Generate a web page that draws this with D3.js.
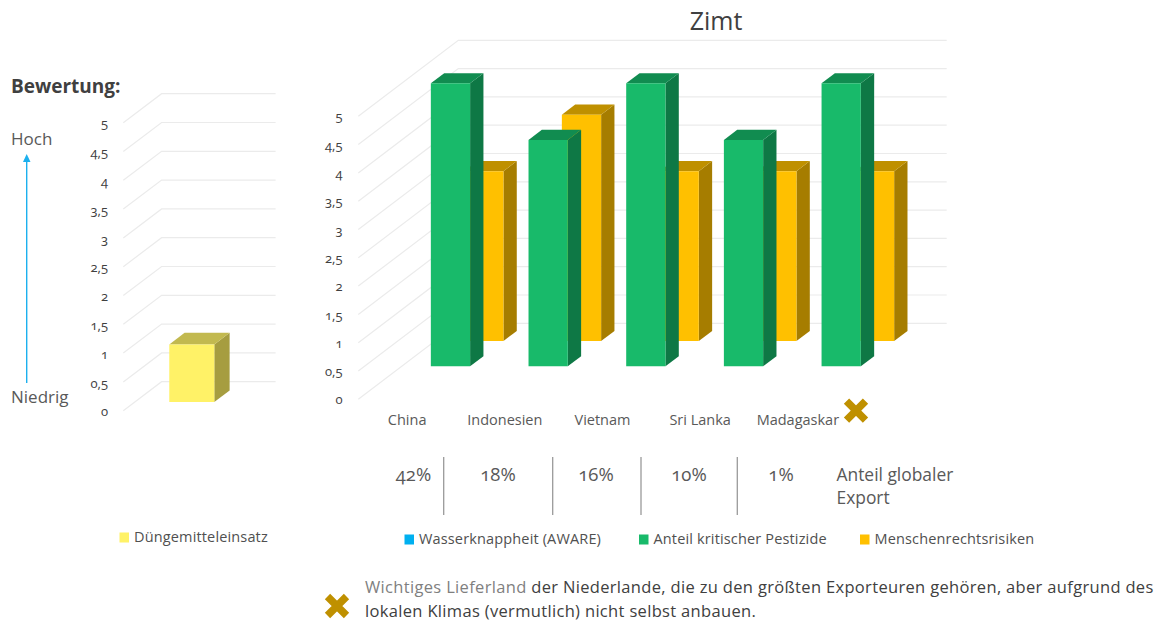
<!DOCTYPE html>
<html lang="de">
<head>
<meta charset="utf-8">
<script src="https://cdn.jsdelivr.net/npm/d3@7"></script>
<style>
html,body{margin:0;padding:0;background:#fff}
svg{display:block}
text{font-family:"Open Sans",Lato,sans-serif;font-variant-numeric:oldstyle-nums;fill:#595959}
</style>
</head>
<body>
<svg id="c" width="1163" height="626"></svg>
<script>
const tickValues = [0,0.5,1,1.5,2,2.5,3,3.5,4,4.5,5];
const leftCategories = ["Gesamt"];
const leftSeries = ["Düngemitteleinsatz"];
const leftValues = [1];
const categories = ["China","Indonesien","Vietnam","Sri Lanka","Madagaskar"];
const seriesNames = ["Wasserknappheit (AWARE)","Anteil kritischer Pestizide","Menschenrechtsrisiken"];
const wasserknappheit = [null,null,null,null,null];
const pestizide = [5,4,5,4,5];
const menschenrechte = [3,4,3,3,3];
const exportAnteil = ["42%","18%","16%","10%","1%"];
const exportX = [413.5,498,596,689,781];
const separatorX = [443.7,552.7,641,737.3];

const palette = {
  "Düngemitteleinsatz":{front:"#FFF267",top:"#C2B94F",side:"#A69D40"},
  "Wasserknappheit (AWARE)":{front:"#00B0F0",top:"#0084B4",side:"#00729C"},
  "Anteil kritischer Pestizide":{front:"#18BA6A",top:"#118C50",side:"#0E7845"},
  "Menschenrechtsrisiken":{front:"#FFC000",top:"#BF9000",side:"#A67D00"}
};
const GRID="#ebebeb", CROSS="#BF9000", ARROW="#1CB0EE";
const svg=d3.select("#c");

function chart3D(o){
  const g=svg.append("g");
  const x=d3.scaleBand().domain(o.categories).range([o.x0,o.x1]);
  const y=d3.scaleLinear().domain([0,5]).range([o.y0,o.y5]);
  const z=d3.scaleBand().domain(o.series).range([0,1]);
  const bw=x.bandwidth()*o.barFrac, bd=z.bandwidth()*0.4;
  const P=(px,v,d)=>[px+o.dx*d,y(v)-o.dy*d];
  const line=d3.line();
  g.selectAll("path.grid").data(tickValues).join("path")
    .attr("fill","none").attr("stroke",GRID).attr("stroke-width",1.2)
    .attr("d",v=>line([P(o.x0,v,0),P(o.x0,v,1),P(o.x1,v,1)]));
  const rows=o.series.map((s,i)=>({s,vals:o.values[i]})).reverse();
  rows.forEach(r=>{
    const c=palette[r.s];
    const d0=z(r.s)+(z.bandwidth()-bd)/2, d1=d0+bd;
    r.vals.forEach((v,i)=>{
      if(v==null) return;
      const a=x(o.categories[i])+(x.bandwidth()-bw)/2, b=a+bw;
      g.append("path").attr("fill",c.side).attr("d",line([P(b,0,d0),P(b,0,d1),P(b,v,d1),P(b,v,d0)])+"Z");
      g.append("path").attr("fill",c.top).attr("d",line([P(a,v,d0),P(a,v,d1),P(b,v,d1),P(b,v,d0)])+"Z");
      g.append("path").attr("fill",c.front).attr("d",line([P(a,0,d0),P(b,0,d0),P(b,v,d0),P(a,v,d0)])+"Z");
    });
  });
  const ax=g.append("g").attr("transform",`translate(${o.labelX},${o.labelDy})`)
    .call(d3.axisLeft(y).tickValues(tickValues).tickSize(0).tickPadding(0)
      .tickFormat(d=>String(d).replace(".",",")));
  ax.select(".domain").remove();
  ax.selectAll("text").attr("font-size",13).style("fill","#404040");
  return {x};
}

chart3D({categories:leftCategories,series:leftSeries,values:[leftValues],
  x0:123.3,x1:237.3,y0:410.7,y5:122.7,dx:38.3,dy:29,barFrac:0.395,labelX:108,labelDy:1});
const main=chart3D({categories,series:seriesNames,values:[wasserknappheit,pestizide,menschenrechte],
  x0:358.3,x1:846.7,y0:399.3,y5:116.3,dx:100,dy:76,barFrac:0.402,labelX:342.5,labelDy:0.5});

function txt(s,x,y,size,opt={}){
  return svg.append("text").attr("x",x).attr("y",y).attr("font-size",size)
    .attr("text-anchor",opt.anchor||"start").attr("font-weight",opt.weight||null)
    .style("letter-spacing",opt.ls||null)
    .style("fill",opt.fill||"#595959").text(s);
}
function cross(cx,cy){
  const r=9.5;
  svg.append("path").attr("fill","none").attr("stroke",CROSS).attr("stroke-width",7.5)
    .attr("d",`M${cx-r},${cy-r}L${cx+r},${cy+r}M${cx-r},${cy+r}L${cx+r},${cy-r}`);
}

txt("Zimt",716,30,25,{anchor:"middle",fill:"#404040"});
txt("Bewertung:",11,93,19,{weight:700,fill:"#404040"});
txt("Hoch",11,145,17);
txt("Niedrig",11,403,17);
svg.append("line").attr("x1",26.7).attr("x2",26.7).attr("y1",383).attr("y2",160)
  .attr("stroke",ARROW).attr("stroke-width",1.4);
svg.append("path").attr("fill",ARROW).attr("d","M26.7,154L30.5,162L23,162Z");

svg.append("g").selectAll("text").data(categories).join("text")
  .attr("x",d=>main.x(d)+main.x.bandwidth()/2).attr("y",425).attr("text-anchor","middle")
  .attr("font-size",14.5).text(d=>d);
cross(856,410.7);

svg.append("g").selectAll("text").data(exportAnteil).join("text")
  .attr("x",(d,i)=>exportX[i]).attr("y",481).attr("text-anchor","middle")
  .attr("font-size",18.5).text(d=>d);
svg.append("g").selectAll("line").data(separatorX).join("line")
  .attr("x1",d=>d).attr("x2",d=>d).attr("y1",457).attr("y2",515)
  .attr("stroke","#9a9a9a").attr("stroke-width",1.3);
txt("Anteil globaler",836.5,481,17.4);
txt("Export",836.5,504,17.4);

function legend(name,x,y){
  svg.append("rect").attr("x",x).attr("y",y-9.5).attr("width",9.5).attr("height",10)
    .attr("fill",palette[name].front);
  txt(name,x+14.5,y,14.5,{fill:"#505050",ls:"0.15px"});
}
legend(leftSeries[0],119.5,542);
legend(seriesNames[0],404.5,544);
legend(seriesNames[1],639,544);
legend(seriesNames[2],860,544);

cross(337,606);
const t=txt("",365,593,16.5,{fill:"#404040",ls:"0.33px"});
t.append("tspan").style("fill","#7f7f7f").text("Wichtiges Lieferland");
t.append("tspan").text(" der Niederlande, die zu den größten Exporteuren gehören, aber aufgrund des");
txt("lokalen Klimas (vermutlich) nicht selbst anbauen.",365,617,16.5,{fill:"#404040",ls:"0.33px"});
</script>
</body>
</html>
